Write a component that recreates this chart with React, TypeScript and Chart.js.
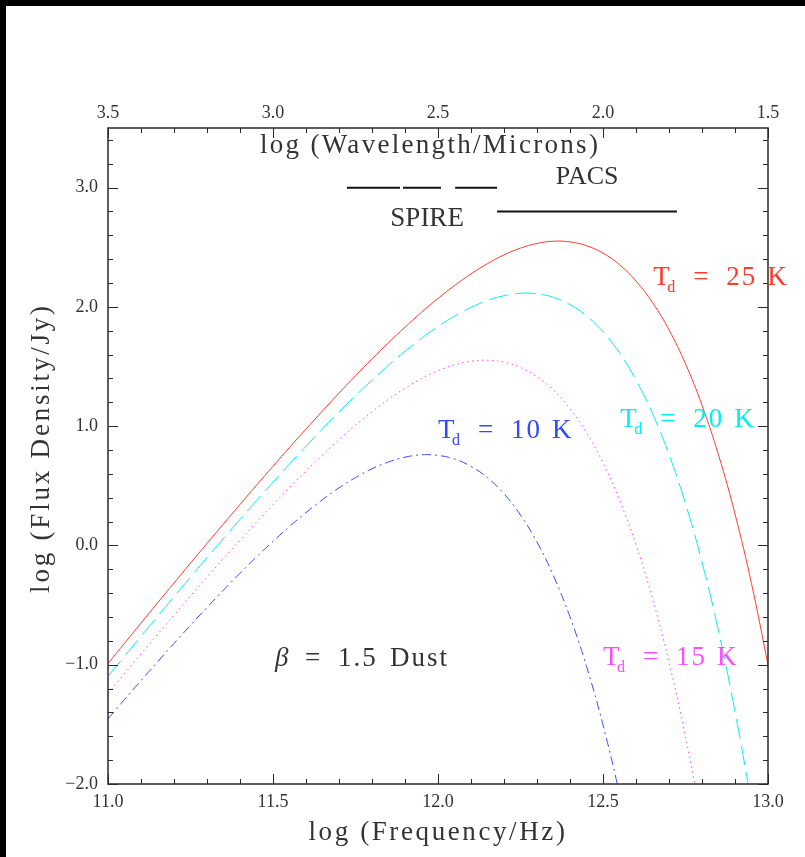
import React, { useEffect, useRef } from 'react';
import { Chart, registerables } from 'chart.js';

Chart.register(...registerables);

// log (Frequency / Hz) sample points
const logFreq = [
  11.0, 11.05, 11.1, 11.15, 11.2, 11.25, 11.3, 11.35, 11.4, 11.45,
  11.5, 11.55, 11.6, 11.65, 11.7, 11.75, 11.8, 11.85, 11.9, 11.95,
  12.0, 12.05, 12.1, 12.15, 12.2, 12.25, 12.3, 12.35, 12.4, 12.45,
  12.5, 12.55, 12.6, 12.65, 12.7, 12.75, 12.8, 12.85, 12.9, 12.95, 13.0,
];

// log (Flux Density / Jy)
const td25 = [
  -0.99, -0.82, -0.651, -0.482, -0.315, -0.148, 0.017, 0.181, 0.344, 0.505,
  0.664, 0.822, 0.976, 1.128, 1.277, 1.423, 1.564, 1.7, 1.83, 1.955,
  2.071, 2.179, 2.277, 2.363, 2.436, 2.493, 2.532, 2.551, 2.545, 2.513,
  2.451, 2.354, 2.217, 2.037, 1.808, 1.523, 1.176, 0.759, 0.264, -0.319, -1.001,
];
const td20 = [
  -1.097, -0.929, -0.761, -0.595, -0.429, -0.265, -0.102, 0.059, 0.218, 0.376,
  0.531, 0.683, 0.832, 0.978, 1.119, 1.256, 1.386, 1.511, 1.628, 1.737,
  1.835, 1.922, 1.996, 2.054, 2.094, 2.114, 2.11, 2.08, 2.019, 1.925,
  1.791, 1.614, 1.387, 1.106, 0.763, 0.351, -0.139, -0.717, -1.392, -2.177, -3.085,
];
const td15 = [
  -1.24, -1.074, -0.91, -0.746, -0.584, -0.423, -0.265, -0.109, 0.045, 0.196,
  0.343, 0.486, 0.625, 0.759, 0.887, 1.008, 1.121, 1.225, 1.318, 1.399,
  1.465, 1.514, 1.545, 1.553, 1.537, 1.492, 1.414, 1.301, 1.146, 0.945,
  0.692, 0.381, 0.005, -0.446, -0.978, -1.603, -2.331, -3.176,
];
const td10 = [
  -1.454, -1.292, -1.133, -0.976, -0.821, -0.669, -0.52, -0.374, -0.233, -0.096,
  0.034, 0.159, 0.276, 0.384, 0.483, 0.569, 0.643, 0.7, 0.74, 0.76,
  0.755, 0.725, 0.663, 0.568, 0.433, 0.255, 0.028, -0.255, -0.599, -1.013,
  -1.505, -2.084, -2.761,
];

// instrument band markers (log frequency ranges) and their levels
const spireBands = [
  [11.724, 11.885],
  [11.894, 12.009],
  [12.052, 12.179],
];
const spireLevel = 3.0;
const pacsBand = [12.179, 12.724];
const pacsLevel = 2.8;

// temperature labels
const tempNames = ['25', '20', '15', '10'];
const tempColors = ['#ff3a28', '#00eef0', '#ff4cff', '#3448ff'];
const lineColors = ['#ff3b30', '#00f0f0', '#ff40ff', '#3a4cff'];

const FONT = '"Liberation Serif", "Times New Roman", serif';
const TEXT = '#333333';

const fmt = (v: number | string) => {
  const n = Number(v);
  const s = Math.abs(n).toFixed(1);
  return n < 0 ? '\u2212' + s : s;
};

const pts = (ys: number[]) => ys.map((y, i) => ({ x: logFreq[i], y }));

const bandPts = () => {
  const out: { x: number; y: number | null }[] = [];
  spireBands.forEach(([a, b]) => {
    out.push({ x: a, y: spireLevel }, { x: b, y: spireLevel }, { x: b, y: null });
  });
  out.push({ x: pacsBand[0], y: pacsLevel }, { x: pacsBand[1], y: pacsLevel });
  return out;
};

// annotation anchors (data coordinates)
const tempAnchors = [
  { x: 12.652, y: 2.183 },
  { x: 12.552, y: 0.992 },
  { x: 12.5, y: -1.0 },
  { x: 12.0, y: 0.9 },
];

function drawText(
  ctx: CanvasRenderingContext2D,
  text: string,
  x: number,
  y: number,
  size: number,
  color: string,
  align: CanvasTextAlign = 'left',
  ls = 0,
  style = ''
) {
  ctx.save();
  ctx.font = `${style} ${size}px ${FONT}`;
  ctx.fillStyle = color;
  ctx.textAlign = align;
  ctx.textBaseline = 'alphabetic';
  (ctx as any).letterSpacing = `${ls}px`;
  ctx.fillText(text, x, y);
  ctx.restore();
}

const framePlugin = {
  id: 'frameTicks',
  afterDatasetsDraw(chart: any) {
    const { ctx, chartArea: a, scales } = chart;
    const sx = scales.x;
    const sx2 = scales.x2;
    const sy = scales.y;
    ctx.save();
    ctx.strokeStyle = '#2a2a2a';
    ctx.lineWidth = 1.5;
    ctx.strokeRect(a.left, a.top, a.right - a.left, a.bottom - a.top);
    ctx.lineWidth = 1;
    ctx.beginPath();
    for (let i = 0; i <= 20; i++) {
      const px = Math.round(sx.getPixelForValue(11 + i * 0.1)) + 0.5;
      const len = i % 5 === 0 ? 10 : 5;
      ctx.moveTo(px, a.bottom);
      ctx.lineTo(px, a.bottom - len);
      const qx = Math.round(sx2.getPixelForValue(1.5 + i * 0.1)) + 0.5;
      ctx.moveTo(qx, a.top);
      ctx.lineTo(qx, a.top + len);
    }
    for (let i = 0; i <= 27; i++) {
      const v = -2 + i * 0.2;
      const py = Math.round(sy.getPixelForValue(v)) + 0.5;
      const len = i % 5 === 0 ? 10 : 5;
      ctx.moveTo(a.left, py);
      ctx.lineTo(a.left + len, py);
      ctx.moveTo(a.right, py);
      ctx.lineTo(a.right - len, py);
    }
    ctx.stroke();
    ctx.restore();
  },
  afterDraw(chart: any) {
    const { ctx, chartArea: a, scales } = chart;
    const sx = scales.x;
    const sy = scales.y;
    const X = (v: number) => sx.getPixelForValue(v);
    const Y = (v: number) => sy.getPixelForValue(v);

    // axis titles
    drawText(ctx, 'log (Frequency/Hz)', (a.left + a.right) / 2, a.bottom + 56, 27, TEXT, 'center', 2.6);
    ctx.save();
    ctx.translate(a.left - 59, (a.top + a.bottom) / 2 - 8);
    ctx.rotate(-Math.PI / 2);
    drawText(ctx, 'log (Flux Density/Jy)', 0, 0, 27, TEXT, 'center', 2.8);
    ctx.restore();
    drawText(ctx, 'log (Wavelength/Microns)', X(11.976), Y(3.289), 27, TEXT, 'center', 2.3);

    // instrument labels
    drawText(ctx, 'PACS', X(12.452), Y(3.029), 26, TEXT, 'center', 0);
    drawText(ctx, 'SPIRE', X(11.967), Y(2.677), 27, TEXT, 'center', 0);

    // beta label
    const bx = X(11.506);
    const by = Y(-1.011);
    drawText(ctx, '\u03b2', bx, by, 27, TEXT, 'left', 0, 'italic');
    drawText(ctx, '=', bx + 30, by, 27, TEXT);
    drawText(ctx, '1.5', bx + 63, by, 27, TEXT, 'left', 2);
    drawText(ctx, 'Dust', bx + 115, by, 27, TEXT, 'left', 2);

    // temperature labels
    tempAnchors.forEach((p, i) => {
      const px = X(p.x);
      const py = Y(p.y);
      const c = tempColors[i];
      drawText(ctx, 'T', px, py, 27, c);
      drawText(ctx, 'd', px + 14, py + 7, 16, c);
      drawText(ctx, '=', px + 40, py, 27, c);
      drawText(ctx, tempNames[i], px + 73, py, 27, c, 'left', 2);
      drawText(ctx, 'K', px + 114, py, 27, c);
    });
  },
};

const tickFont = { family: FONT, size: 18 };

export default function App() {
  const ref = useRef<HTMLCanvasElement>(null);

  useEffect(() => {
    if (!ref.current) return;
    const chart = new Chart(ref.current, {
      type: 'line',
      data: {
        datasets: [
          {
            label: 'Td = 25 K',
            data: pts(td25),
            borderColor: lineColors[0],
            borderWidth: 1,
            tension: 0.4,
          },
          {
            label: 'Td = 20 K',
            data: pts(td20),
            borderColor: lineColors[1],
            borderWidth: 1,
            borderDash: [20, 7],
            tension: 0.4,
          },
          {
            label: 'Td = 15 K',
            data: pts(td15),
            borderColor: lineColors[2],
            borderWidth: 1,
            borderDash: [1.5, 3.5],
            tension: 0.4,
          },
          {
            label: 'Td = 10 K',
            data: pts(td10),
            borderColor: lineColors[3],
            borderWidth: 1,
            borderDash: [9, 4, 2, 4],
            tension: 0.4,
          },
          {
            label: 'bands',
            data: bandPts() as any,
            borderColor: '#111111',
            borderWidth: 2,
            tension: 0,
          },
        ],
      },
      options: {
        responsive: false,
        animation: false,
        devicePixelRatio: 1,
        layout: { padding: { left: 0, right: 37, top: 0, bottom: 0 } },
        plugins: { legend: { display: false }, tooltip: { enabled: false } },
        elements: { point: { radius: 0 } },
        scales: {
          x: {
            type: 'linear',
            position: 'bottom',
            min: 11,
            max: 13,
            grid: { display: false, drawTicks: false },
            border: { display: false },
            ticks: {
              stepSize: 0.5,
              includeBounds: false,
              autoSkip: false,
              maxRotation: 0,
              padding: 7,
              color: TEXT,
              font: tickFont,
              callback: fmt,
            },
            afterFit: (s: any) => {
              s.height = 73;
            },
          },
          x2: {
            type: 'linear',
            position: 'top',
            reverse: true,
            min: 1.5,
            max: 3.5,
            grid: { display: false, drawTicks: false },
            border: { display: false },
            ticks: {
              stepSize: 0.5,
              includeBounds: false,
              autoSkip: false,
              maxRotation: 0,
              padding: 4,
              color: TEXT,
              font: tickFont,
              callback: fmt,
            },
            afterFit: (s: any) => {
              s.height = 122;
            },
          },
          y: {
            type: 'linear',
            position: 'left',
            min: -2,
            max: 3.5,
            grid: { display: false, drawTicks: false },
            border: { display: false },
            ticks: {
              stepSize: 1,
              includeBounds: false,
              autoSkip: false,
              padding: 10,
              color: TEXT,
              font: tickFont,
              callback: fmt,
            },
            afterFit: (s: any) => {
              s.width = 102;
            },
          },
        },
      } as any,
      plugins: [framePlugin],
    });
    return () => chart.destroy();
  }, []);

  return (
    <div
      style={{
        position: 'absolute',
        left: 0,
        top: 0,
        width: 805,
        height: 857,
        background: '#000',
        overflow: 'hidden',
      }}
    >
      <div
        style={{
          position: 'absolute',
          left: 6,
          top: 6,
          width: 799,
          height: 851,
          background: '#fff',
        }}
      >
        <canvas ref={ref} width={799} height={851} style={{ display: 'block', width: 799, height: 851 }} />
      </div>
    </div>
  );
}
